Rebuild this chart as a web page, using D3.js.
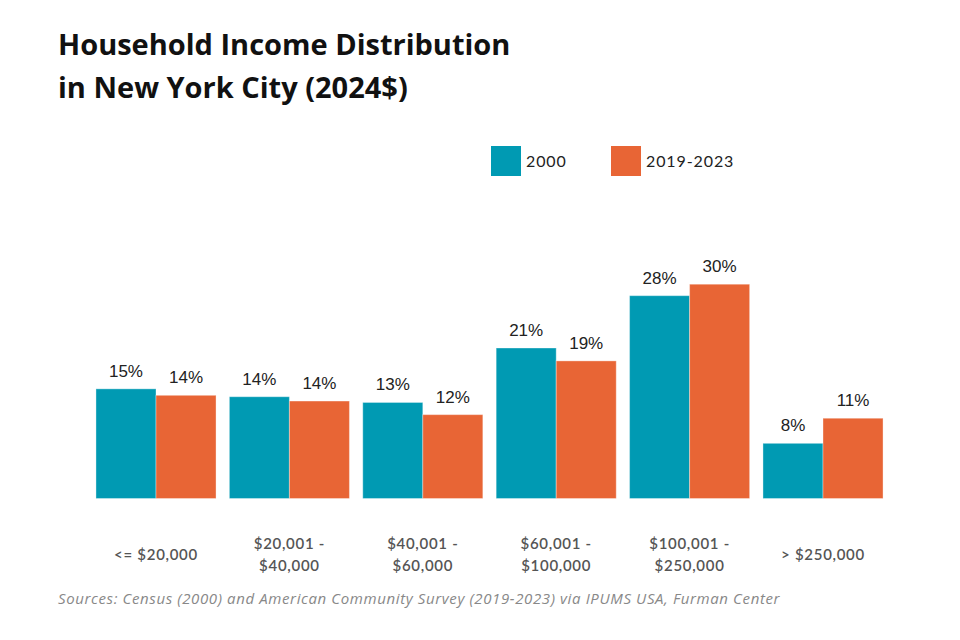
<!DOCTYPE html>
<html>
	<head>
		<title>Household Income Distribution in New York City</title>
		<script src="https://d3js.org/d3.v7.min.js"></script>

		<style>
			body {
			  margin: 0;
			  background: #fff;
			}

			.title {
			  font-family: "Open Sans", sans-serif;
			  font-weight: 700;
			  font-size: 29px;
			  fill: #111;
			}

			.legend text, .cat {
			  font-family: Lato, sans-serif;
			  font-size: 15px;
			}

			.legend text {
			  fill: #222;
			  font-size: 16px;
			  letter-spacing: 0.9px;
			}

			.cat {
			  fill: #555;
			  font-weight: 600;
			  letter-spacing: 0.7px;
			}

			.value {
			  font-family: "Liberation Sans", Arial, sans-serif;
			  font-size: 17px;
			  fill: #222;
			}

			.source {
			  font-family: "Open Sans", sans-serif;
			  font-style: italic;
			  font-size: 15px;
			  letter-spacing: 0.62px;
			  fill: #888;
			}
		</style>
	</head>

	<body>

		<svg width="960" height="640">
		</svg>

        <script type="text/javascript">
        	var categories = [
        		["<= $20,000"],
        		["$20,001 -", "$40,000"],
        		["$40,001 -", "$60,000"],
        		["$60,001 -", "$100,000"],
        		["$100,001 -", "$250,000"],
        		["> $250,000"]
        	];
        	var seriesNames = ["2000", "2019-2023"];
        	var values2000 = [15.3, 14.2, 13.4, 21.0, 28.3, 7.7];
        	var values2019 = [14.4, 13.6, 11.7, 19.2, 29.9, 11.2];
        	var colors = ["#009ab3", "#e86535"];

        	var svg = d3.select('svg');

        	var baseline = 498.5;

        	var x = d3.scaleBand()
        		.domain(d3.range(categories.length))
        		.range([89.3, 889.7])
        		.paddingInner(0.1)
        		.paddingOuter(0.05);

        	var xInner = d3.scaleBand()
        		.domain(seriesNames)
        		.range([0, x.bandwidth()]);

        	var y = d3.scaleLinear()
        		.domain([0, 30])
        		.range([baseline, baseline - 215]);

        	var color = d3.scaleOrdinal()
        		.domain(seriesNames)
        		.range(colors);

        	// title
        	svg.append('text')
        		.attr('class', 'title')
        		.attr('x', 58)
        		.selectAll('tspan')
        		.data(["Household Income Distribution", "in New York City (2024$)"])
        		.enter()
        		.append('tspan')
        		.attr('x', 58)
        		.attr('y', function(d, i) { return 55 + i * 43; })
        		.text(function(d) { return d; });

        	// legend
        	var legend = svg.append('g')
        		.attr('class', 'legend')
        		.selectAll('g')
        		.data(seriesNames)
        		.enter()
        		.append('g')
        		.attr('transform', function(d, i) {
        			return 'translate(' + (491 + i * 120) + ',146)';
        		});

        	legend.append('rect')
        		.attr('width', 30)
        		.attr('height', 30)
        		.attr('fill', color);

        	legend.append('text')
        		.attr('x', 35)
        		.attr('y', 21)
        		.text(function(d) { return d; });

        	// bars
        	var rows = categories.map(function(c, i) {
        		return [
        			{ cat: i, series: seriesNames[0], value: values2000[i] },
        			{ cat: i, series: seriesNames[1], value: values2019[i] }
        		];
        	});

        	var groups = svg.append('g')
        		.selectAll('g')
        		.data(rows)
        		.enter()
        		.append('g')
        		.attr('transform', function(d, i) { return 'translate(' + x(i) + ',0)'; });

        	groups.selectAll('rect')
        		.data(function(d) { return d; })
        		.enter()
        		.append('rect')
        		.attr('x', function(d) { return xInner(d.series); })
        		.attr('y', function(d) { return y(d.value); })
        		.attr('width', xInner.bandwidth())
        		.attr('height', function(d) { return baseline - y(d.value); })
        		.attr('fill', function(d) { return color(d.series); })
        		.attr('stroke', 'rgba(255,255,255,0.35)')
        		.attr('stroke-width', 1);

        	groups.selectAll('text')
        		.data(function(d) { return d; })
        		.enter()
        		.append('text')
        		.attr('class', 'value')
        		.attr('text-anchor', 'middle')
        		.attr('x', function(d) { return xInner(d.series) + xInner.bandwidth() / 2; })
        		.attr('y', function(d) { return y(d.value) - 12; })
        		.text(function(d) { return Math.round(d.value) + '%'; });

        	// category labels
        	var cats = svg.append('g')
        		.selectAll('text')
        		.data(categories)
        		.enter()
        		.append('text')
        		.attr('class', 'cat')
        		.attr('text-anchor', 'middle')
        		.attr('transform', function(d, i) {
        			return 'translate(' + (x(i) + x.bandwidth() / 2) + ',0)';
        		});

        	cats.selectAll('tspan')
        		.data(function(d) {
        			return d.map(function(line, j) { return { line: line, j: j, n: d.length }; });
        		})
        		.enter()
        		.append('tspan')
        		.attr('x', 0)
        		.attr('y', function(d) { return 559.5 + (d.j - (d.n - 1) / 2) * 22; })
        		.text(function(d) { return d.line; });

        	// source
        	svg.append('text')
        		.attr('class', 'source')
        		.attr('x', 58)
        		.attr('y', 604)
        		.text("Sources: Census (2000) and American Community Survey (2019-2023) via IPUMS USA, Furman Center");
        </script>

	</body>
</html>
